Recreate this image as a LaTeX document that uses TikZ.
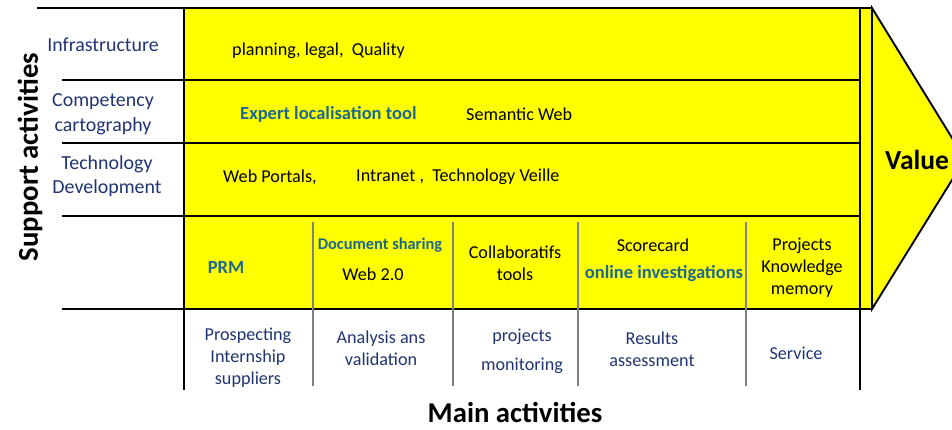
\documentclass[tikz,border=0pt]{standalone}
\usepackage{fontspec}
\setmainfont{Carlito}
\definecolor{navytext}{RGB}{32,52,115}
\definecolor{tealtext}{RGB}{28,105,140}
\definecolor{bandyellow}{RGB}{255,255,0}

\begin{document}
\begin{tikzpicture}[x=0.03cm,y=-0.03cm,
  rule/.style={line width=1.6pt},
  thinrule/.style={line width=1.1pt,gray},
  lab/.style={font=\fontsize{15.5}{18.7}\selectfont,align=center,inner sep=0pt},
  side/.style={lab,text=navytext,font=\fontsize{17}{21}\selectfont},
  hi/.style={lab,text=tealtext,font=\fontsize{15.8}{18}\selectfont\bfseries},
  title/.style={font=\fontsize{24.5}{28}\selectfont\bfseries,inner sep=0pt}]
\useasboundingbox (0,0) rectangle (952,430);
\clip (0,0) rectangle (952,430);
% yellow band and value arrow
\fill[bandyellow] (184,8) rectangle (872,309);
\draw[rule,fill=bandyellow] (872,8) -- (965,159) -- (872,309) -- cycle;
% table rules
\draw[rule] (37,8) -- (872,8);
\draw[rule] (62,80) -- (860,80);
\draw[rule] (62,143) -- (860,143);
\draw[rule] (62,216) -- (860,216);
\draw[rule] (62,309) -- (872,309);
\draw[rule] (184,8) -- (184,390);
\draw[rule] (860,8) -- (860,390);
\foreach \x in {313,453,578,746}
  \draw[thinrule] (\x,222) -- (\x,386);
% support activities
\node[side] (infra) at (103,45) {Infrastructure};
\node[side] (compet) at (103,114) {Competency\\cartography};
\node[side] (techdev) at (107,176) {Technology\\Development};
\node[lab,anchor=west] (plan) at (232,51) {planning, legal,\ \ Quality};
\node[hi,anchor=west] (expert) at (240,114) {Expert localisation tool};
\node[lab,anchor=west] (semweb) at (466,114) {Semantic Web};
\node[lab,anchor=west] (portals) at (223,177) {Web Portals,};
\node[lab,anchor=west] (intranet) at (356,177) {Intranet ,\ \ Technology Veille};
% main activities, tools
\node[hi] (prm) at (226,267) {PRM};
\node[hi,font=\fontsize{14}{16}\selectfont\bfseries] (docshare) at (380,245) {Document sharing};
\node[lab] (webtwo) at (373,274) {Web 2.0};
\node[lab] (collab) at (515,263) {Collaboratifs\\tools};
\node[lab] (score) at (653,245) {Scorecard};
\node[hi] (online) at (664,274) {online investigations};
\node[lab] (projknow) at (802,268) {Projects\\Knowledge\\memory};
% main activities
\node[lab,text=navytext] (prosp) at (248,358) {Prospecting\\Internship\\suppliers};
\node[lab,text=navytext] (analysis) at (381,348) {Analysis ans\\validation};
\node[lab,text=navytext] (projmon) at (522,351) {projects\\[6pt]monitoring};
\node[lab,text=navytext] (results) at (652,349) {Results\\assessment};
\node[lab,text=navytext] (service) at (796,353) {Service};
% titles
\node[title,rotate=90] (support) at (30,157) {Support activities};
\node[title] (mainact) at (515,413) {Main activities};
\node[title,anchor=west,font=\fontsize{23.5}{27}\selectfont\bfseries] (value) at (885,160) {Value};
\end{tikzpicture}
\end{document}
